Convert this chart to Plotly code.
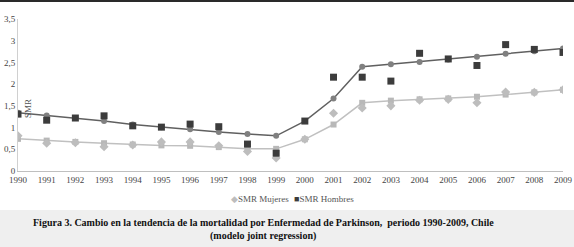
import plotly.graph_objects as go

years = list(range(1990, 2010))
year_labels = [str(y) for y in years]

smr_hombres = [1.31, 1.17, 1.22, 1.27, 1.04, 1.01, 1.08, 1.02, 0.62, 0.41,
               1.15, 2.16, 2.16, 2.07, 2.71, 2.58, 2.43, 2.91, 2.80, 2.73]
fit_hombres = [1.34, 1.28, 1.22, 1.15, 1.07, 1.01, 0.96, 0.90, 0.85, 0.81,
               1.15, 1.67, 2.40, 2.46, 2.51, 2.57, 2.63, 2.70, 2.76, 2.82]
smr_mujeres = [0.81, 0.64, 0.65, 0.56, 0.60, 0.67, 0.67, 0.58, 0.45, 0.30,
               0.73, 1.33, 1.45, 1.50, 1.63, 1.65, 1.57, 1.82, 1.81, 1.87]
fit_mujeres = [0.74, 0.70, 0.67, 0.64, 0.61, 0.59, 0.58, 0.55, 0.51, 0.51,
               0.73, 1.07, 1.57, 1.62, 1.65, 1.67, 1.71, 1.76, 1.81, 1.87]

y_ticks = [0, 0.5, 1, 1.5, 2, 2.5, 3, 3.5]
y_tick_labels = ["0", "0,5", "1", "1,5", "2", "2,5", "3", "3,5"]

font_family = "Liberation Serif, Times New Roman, serif"

fig = go.Figure()

fig.add_trace(go.Scatter(
    x=years, y=fit_mujeres, mode="lines+markers", showlegend=False,
    line=dict(color="#c0c0c0", width=1.5),
    marker=dict(symbol="square", size=6, color="#b8b8b8"),
))
fig.add_trace(go.Scatter(
    x=years, y=fit_hombres, mode="lines+markers", showlegend=False,
    line=dict(color="#606060", width=1.5),
    marker=dict(symbol="circle", size=6, color="#808080"),
))
fig.add_trace(go.Scatter(
    x=years, y=smr_mujeres, mode="markers", name="SMR Mujeres", showlegend=False,
    marker=dict(symbol="diamond", size=7, color="#bdbdbd"),
))
fig.add_trace(go.Scatter(
    x=years, y=smr_hombres, mode="markers", name="SMR Hombres", showlegend=False,
    marker=dict(symbol="square", size=7, color="#3c3c3c"),
))

# plot area: x 18..563, y 19..171 (px)
W, H = 574, 247
L, R, T, B = 18, 11, 19, 76
pw = W - L - R
ph = H - T - B

def py(ypx):
    return (H - B - ypx) / ph

def px(xpx):
    return (xpx - L) / pw

shapes = [
    dict(type="rect", xref="paper", yref="paper",
         x0=px(0), x1=px(W), y0=py(H + 2), y1=py(210),
         fillcolor="#efefef", line=dict(width=0), layer="below"),
    dict(type="rect", xref="paper", yref="paper",
         x0=px(-2), x1=px(W + 2), y0=py(2), y1=py(-2),
         fillcolor="#2a2a2a", line=dict(width=0), layer="above"),
]

annotations = [
    dict(text="<b>Figura 3. Cambio en la tendencia de la mortalidad por Enfermedad de Parkinson,  periodo 1990-2009, Chile</b>",
         xref="paper", yref="paper", x=px(263), y=py(222),
         xanchor="center", yanchor="middle", showarrow=False,
         font=dict(family=font_family, size=10, color="#111111")),
    dict(text="<b>(modelo joint regression)</b>",
         xref="paper", yref="paper", x=px(263), y=py(236),
         xanchor="center", yanchor="middle", showarrow=False,
         font=dict(family=font_family, size=10, color="#111111")),
    dict(text="SMR", xref="paper", yref="paper",
         x=px(28), y=py(109),
         xanchor="center", yanchor="middle", textangle=-90, showarrow=False,
         font=dict(family=font_family, size=9, color="#555555")),
    # legend
    dict(text="<span style='color:#bdbdbd'>◆</span>SMR Mujeres",
         xref="paper", yref="paper", x=px(229), y=py(199),
         xanchor="left", yanchor="middle", showarrow=False,
         font=dict(family=font_family, size=9, color="#555555")),
    dict(text="<span style='color:#3c3c3c'>■</span>SMR Hombres",
         xref="paper", yref="paper", x=px(292), y=py(199),
         xanchor="left", yanchor="middle", showarrow=False,
         font=dict(family=font_family, size=9, color="#555555")),
]

fig.update_layout(
    width=W, height=H,
    margin=dict(l=L, r=R, t=T, b=B, autoexpand=False),
    paper_bgcolor="white", plot_bgcolor="white",
    font=dict(family=font_family, size=9, color="#444444"),
    showlegend=False,
    shapes=shapes,
    annotations=annotations,
)

fig.update_xaxes(
    range=[1990, 2009], tickmode="array", tickvals=years, ticktext=year_labels,
    showgrid=False, zeroline=False, showline=True, linecolor="#bfbfbf", linewidth=1,
    ticks="", tickfont=dict(family=font_family, size=9, color="#444444"),
    automargin=False, fixedrange=True,
)
fig.update_yaxes(
    range=[0, 3.5], tickmode="array", tickvals=y_ticks, ticktext=y_tick_labels,
    showgrid=False, zeroline=False, showline=True, linecolor="#d0d0d0", linewidth=1,
    ticks="", tickfont=dict(family=font_family, size=9, color="#444444"),
    automargin=False, fixedrange=True,
)

fig.write_html("out.html", config={"displayModeBar": False},
               post_script="document.body.style.margin='0';")
